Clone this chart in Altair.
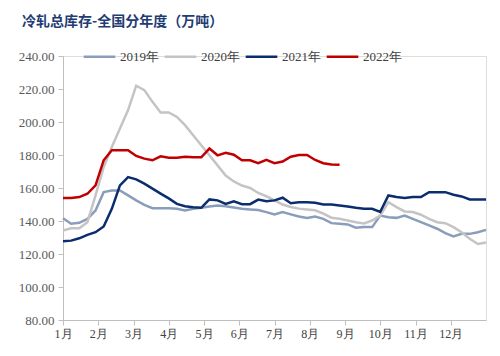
import altair as alt
import pandas as pd

years = ["2019年", "2020年", "2021年", "2022年"]
colors = ["#8A9DBA", "#C4C4C4", "#0B2D6E", "#C00000"]
months = ["1月", "2月", "3月", "4月", "5月", "6月", "7月", "8月", "9月", "10月", "11月", "12月"]
y_ticks = [80, 100, 120, 140, 160, 180, 200, 220, 240]

s2019 = [141.7, 138.3, 138.9, 141.3, 146.4, 157.5, 158.5, 158.5, 155.5, 152.5,
         149.8, 147.8, 147.8, 147.8, 147.4, 146.4, 147.4, 148.0, 148.8, 149.4,
         149.0, 148.2, 147.4, 147.0, 146.6, 145.4, 144.0, 145.4, 144.0, 142.7,
         141.9, 142.7, 141.3, 138.7, 138.3, 137.9, 135.9, 136.3, 136.3, 143.3,
         142.3, 141.9, 143.3, 141.3, 139.3, 137.3, 135.3, 132.6, 130.6, 132.2,
         132.2, 133.2, 134.6]
s2020 = [134.2, 135.6, 135.6, 139.3, 155.5, 172.7, 184.9, 196.0, 207.2, 222.0,
         219.3, 212.2, 205.8, 205.8, 203.1, 198.1, 192.0, 185.9, 179.8, 173.7,
         167.5, 164.0, 161.5, 160.0, 157.0, 155.0, 152.5, 150.0, 148.5, 147.5,
         147.0, 146.5, 144.5, 142.0, 141.3, 140.3, 139.3, 138.5, 140.3, 143.3,
         151.4, 148.4, 145.8, 145.4, 143.8, 141.3, 139.3, 138.7, 136.3, 133.2,
         129.2, 126.1, 127.0]
s2021 = [127.7, 128.1, 129.5, 131.6, 133.2, 136.7, 147.4, 161.6, 166.6, 165.2,
         162.6, 159.6, 156.6, 153.7, 150.4, 149.0, 148.4, 148.0, 153.1, 152.5,
         150.4, 151.9, 150.2, 150.2, 153.0, 152.0, 152.5, 154.1, 150.8, 151.4,
         151.4, 151.0, 150.0, 150.0, 149.4, 148.8, 148.0, 147.4, 147.4, 145.5,
         155.5, 154.5, 153.9, 154.5, 154.5, 157.5, 157.5, 157.5, 155.9, 154.9,
         153.1, 153.1, 153.1]
s2022 = [153.9, 153.9, 154.5, 156.5, 161.6, 176.8, 182.9, 182.9, 182.9, 179.4,
         177.8, 176.8, 179.2, 178.4, 178.4, 179.0, 178.6, 178.6, 183.9, 179.8,
         181.4, 180.2, 176.8, 176.8, 175.0, 177.0, 175.0, 176.0, 179.0, 180.0,
         180.0, 177.0, 175.0, 174.3, 174.1]

rows = []
for name, series in zip(years, [s2019, s2020, s2021, s2022]):
    for i, v in enumerate(series):
        rows.append({"week": i, "value": v, "year": name})
df = pd.DataFrame(rows)

n_weeks = 52
month_vals = [i * n_weeks / 12 for i in range(12)]
month_arr = "[" + ",".join("'" + m + "'" for m in months) + "]"

chart = alt.Chart(df).mark_line(strokeWidth=2.5).encode(
    x=alt.X("week:Q",
            scale=alt.Scale(domain=[0, n_weeks], nice=False, zero=False),
            axis=alt.Axis(values=month_vals, title=None, grid=False, labelFlush=False,
                          labelExpr=month_arr + "[round(datum.value*12/52)]",
                          labelFont="Liberation Serif", labelFontSize=12,
                          labelColor="#404040", domainColor="#BFBFBF",
                          tickColor="#BFBFBF", tickSize=5, labelPadding=3)),
    y=alt.Y("value:Q",
            scale=alt.Scale(domain=[80, 240], nice=False, zero=False),
            axis=alt.Axis(values=y_ticks, format=".2f", title=None, grid=False,
                          labelFont="Liberation Serif", labelFontSize=13,
                          labelColor="#595959", domainColor="#BFBFBF",
                          tickColor="#BFBFBF", tickSize=5, labelPadding=4)),
    color=alt.Color("year:N",
                    scale=alt.Scale(domain=years, range=colors),
                    legend=alt.Legend(title=None, orient="none", direction="horizontal",
                                      legendX=19, legendY=-17, symbolType="stroke",
                                      symbolSize=1000, symbolStrokeWidth=2.5,
                                      labelFont="Liberation Serif", labelFontSize=13,
                                      labelColor="#404040", labelOffset=3,
                                      columnPadding=0, padding=0)),
).properties(
    width=423, height=264,
    autosize=alt.AutoSizeParams(type="none"),
    padding={"left": 63, "top": 56, "right": 14, "bottom": 36},
    title=alt.TitleParams("冷轧总库存-全国分年度（万吨）", anchor="start", frame="group",
                          dx=-41, offset=10, font="Noto Sans CJK SC", fontSize=14,
                          fontWeight="bold", color="#1F3C73"),
).configure_view(stroke=None).configure(background="white")

chart.save("out.html", embed_options={"renderer": "svg", "actions": False})
